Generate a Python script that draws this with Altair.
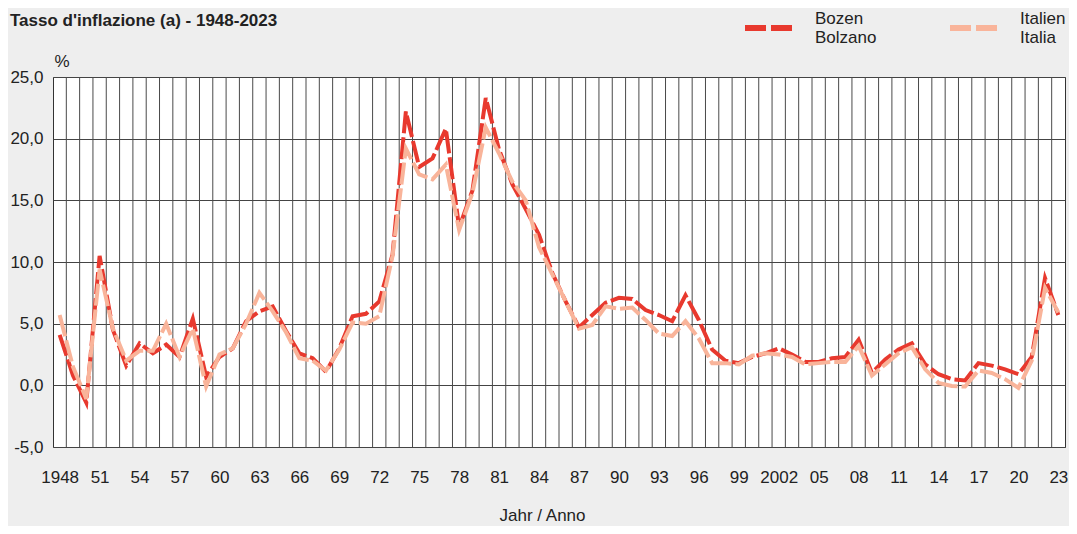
import altair as alt
import pandas as pd

years = list(range(1948, 2024))

bolzano = [4.1, 0.8, -1.4, 10.5, 4.5, 1.6, 3.4, 2.6, 3.3, 2.3,
           5.4, 0.7, 2.3, 3.0, 5.2, 6.0, 6.4, 4.4, 2.6, 2.2,
           1.1, 3.0, 5.6, 5.8, 6.8, 10.6, 22.2, 17.7, 18.4, 20.8,
           12.8, 15.8, 23.3, 19.1, 16.3, 14.3, 12.2, 9.1, 6.8, 4.7,
           5.7, 6.7, 7.1, 7.0, 6.1, 5.7, 5.2, 7.3, 5.3, 2.9,
           2.0, 1.8, 2.3, 2.6, 3.0, 2.5, 1.9, 1.9, 2.2, 2.3,
           3.7, 1.0, 2.1, 2.9, 3.4, 1.7, 0.9, 0.5, 0.4, 1.8,
           1.6, 1.3, 0.9, 2.3, 8.7, 5.7]

italia = [5.7, 1.5, -1.1, 9.4, 4.6, 2.0, 2.8, 2.8, 5.0, 2.3,
          4.6, -0.1, 2.5, 3.0, 5.0, 7.5, 6.0, 4.3, 2.2, 2.0,
          1.2, 2.9, 5.1, 5.0, 5.6, 10.5, 19.2, 17.1, 16.7, 17.9,
          12.6, 15.6, 20.9, 18.8, 16.5, 15.0, 11.2, 9.0, 6.8, 4.6,
          4.9, 6.4, 6.2, 6.3, 5.3, 4.2, 4.0, 5.2, 3.8, 1.8,
          1.8, 1.7, 2.4, 2.6, 2.5, 2.3, 1.7, 1.8, 1.9, 1.9,
          3.2, 0.8, 1.7, 2.6, 3.1, 1.3, 0.2, -0.05, -0.1, 1.2,
          1.0, 0.5, -0.2, 2.0, 7.9, 5.9]

series_names = ["Bozen|Bolzano", "Italien|Italia"]
series_colors = ["#e8392e", "#f9b49a"]
y_ticks = [-5, 0, 5, 10, 15, 20, 25]
label_years = list(range(1948, 2024, 3))
full_label_years = [1948, 2002]

df = pd.DataFrame({
    "year": years + years,
    "value": bolzano + italia,
    "series": [series_names[0]] * len(years) + [series_names[1]] * len(years),
})
grid_df = pd.DataFrame({"year": [y + 0.5 for y in years[:-1]]})

FONT = "Liberation Sans"
TXT = "#222222"

xscale = alt.Scale(domain=[years[0] - 0.5, years[-1] + 0.5], nice=False, zero=False)
yscale = alt.Scale(domain=[y_ticks[0], y_ticks[-1]], nice=False, zero=False)

full_expr = " || ".join(f"datum.value == {y}" for y in full_label_years)
x_label_expr = f"({full_expr}) ? format(datum.value, 'd') : slice(format(datum.value, 'd'), 2)"

x_axis = alt.Axis(
    values=label_years, labelExpr=x_label_expr, grid=False, ticks=False,
    domain=False, labelFlush=False, labelOverlap=False, labelPadding=22,
    labelFontSize=17, labelFont=FONT, labelColor=TXT,
    title="Jahr / Anno", titleFontSize=17, titleFontWeight="normal",
    titleFont=FONT, titleColor=TXT, titleX=489, titleY=73,
    titleBaseline="alphabetic", titleAnchor="start", titleAlign="center",
)

color = alt.Color(
    "series:N",
    scale=alt.Scale(domain=series_names, range=series_colors),
    legend=alt.Legend(
        title=None, orient="none", legendX=689, legendY=-76,
        direction="horizontal", symbolType="stroke", symbolSize=2304,
        symbolStrokeWidth=6, symbolDash=[21, 5], labelFontSize=17,
        labelFont=FONT, labelColor=TXT, labelOffset=19, columnPadding=61,
        labelBaseline="bottom",
        labelExpr="split(datum.label, '|')", labelLimit=300, padding=0,
    ),
)

grid = alt.Chart(grid_df).mark_rule(color="#4a4a4a", strokeWidth=1).encode(
    x=alt.X("year:Q", scale=xscale, axis=x_axis)
)

base = alt.Chart(df).encode(
    x=alt.X("year:Q", scale=xscale, axis=x_axis),
    y=alt.Y("value:Q", scale=yscale, axis=alt.Axis(
        values=y_ticks,
        labelExpr="replace(replace(format(datum.value, '.1f'), '.', ','), '\u2212', '-')",
        grid=True, gridColor="#444444", gridWidth=1, ticks=False, domain=False,
        labelPadding=10, labelFontSize=17, labelFont=FONT, labelColor=TXT,
        title="%", titleAngle=0, titleX=1, titleY=-11, titleAlign="left",
        titleBaseline="alphabetic", titleFontSize=17, titleFontWeight="normal",
        titleFont=FONT, titleColor=TXT,
    )),
    color=color,
)

red = base.transform_filter(alt.datum.series == series_names[0]).mark_line(
    strokeWidth=4, strokeDash=[22, 4], strokeCap="butt")
pink = base.transform_filter(alt.datum.series == series_names[1]).mark_line(
    strokeWidth=4, strokeDash=[22, 4], strokeCap="butt")

chart = alt.layer(grid, red, pink).properties(
    width=1012, height=370,
    autosize=alt.AutoSizeParams(type="none"),
    padding={"left": 45, "top": 69, "right": 4, "bottom": 79},
    background="#eeeeee",
    title=alt.TitleParams(
        "Tasso d'inflazione (a) - 1948-2023", anchor="start", frame="bounds",
        fontSize=17, fontWeight="bold", font=FONT, color=TXT, dy=33,
    ),
).configure_view(stroke="#333333", strokeWidth=1, fill="white")

chart.save("out.html", embed_options={"renderer": "svg", "actions": False})
